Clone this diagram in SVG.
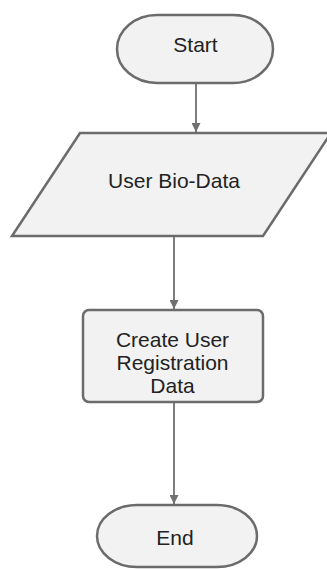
<svg xmlns="http://www.w3.org/2000/svg" width="327" height="569" viewBox="0 0 327 569">
  <style>
    .shape { fill: #f2f2f2; stroke: #6b6b6b; stroke-width: 2.5; }
    .conn { stroke: #707070; stroke-width: 1.8; fill: none; }
    .lbl { font-family: "Liberation Sans", Arial, sans-serif; font-size: 21px; fill: #222; text-anchor: middle; }
  </style>
  <defs>
    <marker id="arrow" viewBox="0 0 10 10" refX="10" refY="5" markerWidth="9" markerHeight="9" markerUnits="userSpaceOnUse" orient="auto">
      <path d="M0,0 L10,5 L0,10 Z" fill="#707070"/>
    </marker>
  </defs>
  <rect width="327" height="569" fill="#ffffff"/>
  <g id="connectors">
    <path class="conn" d="M196,83 L196,132" marker-end="url(#arrow)"/>
    <path class="conn" d="M174,236 L174,309" marker-end="url(#arrow)"/>
    <path class="conn" d="M174,402 L174,504" marker-end="url(#arrow)"/>
  </g>
  <g id="start">
    <rect class="shape" x="117" y="15" width="156" height="68" rx="40" ry="34"/>
    <text class="lbl" x="195.5" y="52">Start</text>
  </g>
  <g id="bio-data">
    <polygon class="shape" points="80,133 331,133 263,236 12,236"/>
    <text class="lbl" x="174" y="188">User Bio-Data</text>
  </g>
  <g id="create">
    <rect class="shape" x="83" y="310" width="180" height="92" rx="6" ry="6"/>
    <text class="lbl" x="172.5" y="347">Create User</text>
    <text class="lbl" x="172.5" y="370">Registration</text>
    <text class="lbl" x="172.5" y="393">Data</text>
  </g>
  <g id="end">
    <rect class="shape" x="97" y="505" width="160" height="62" rx="40" ry="31"/>
    <text class="lbl" x="175" y="545">End</text>
  </g>
</svg>
